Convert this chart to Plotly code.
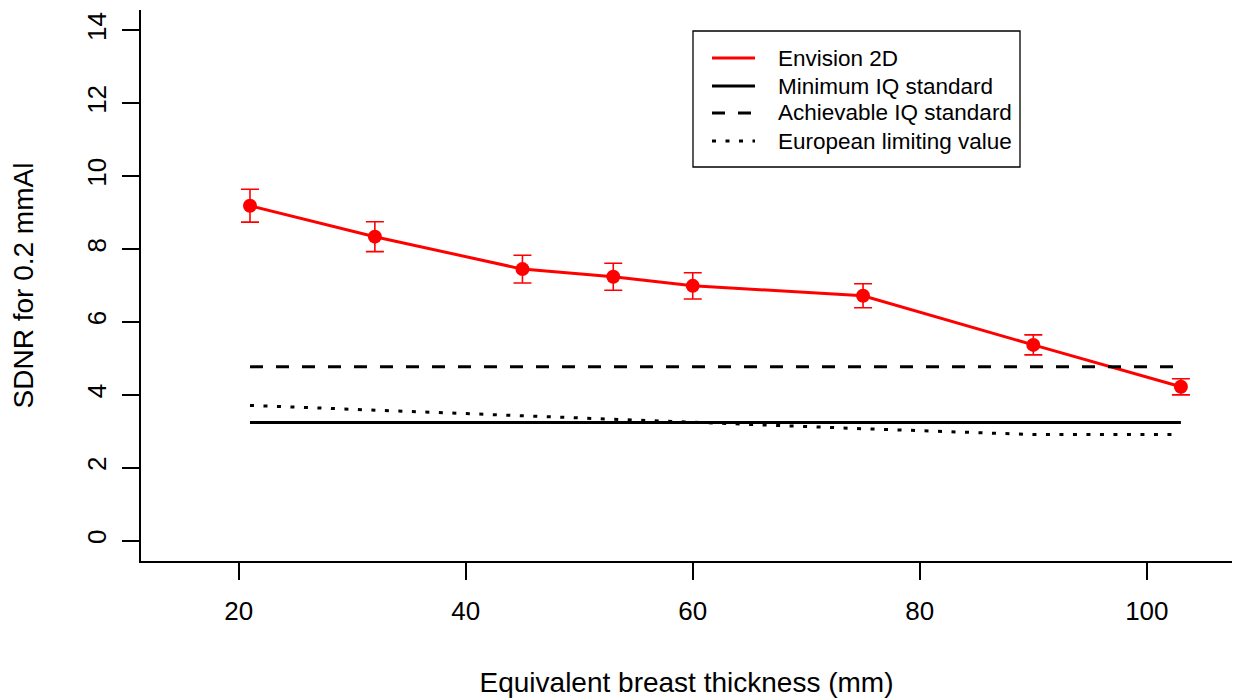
import plotly.graph_objects as go

thickness = [21, 32, 45, 53, 60, 75, 90, 103]
sdnr = [9.19, 8.34, 7.45, 7.24, 6.99, 6.72, 5.37, 4.22]
sdnr_err = [0.45, 0.41, 0.38, 0.37, 0.36, 0.33, 0.275, 0.22]
minimum_iq = [3.24, 3.24, 3.24, 3.24, 3.24, 3.24, 3.24, 3.24]
achievable_iq = [4.77, 4.77, 4.77, 4.77, 4.77, 4.77, 4.77, 4.77]
european_limit = [3.71, 3.58, 3.42, 3.33, 3.25, 3.07, 2.91, 2.91]

x_ticks = [20, 40, 60, 80, 100]
y_ticks = [0, 2, 4, 6, 8, 10, 12, 14]

legend_names = ["Envision 2D", "Minimum IQ standard", "Achievable IQ standard", "European limiting value"]
legend_colors = ["#ff0000", "black", "black", "black"]
DASH_LONG = "13px,13px"
DASH_DOT = "4px,9.5px"
legend_dashes = ["solid", "solid", DASH_LONG, DASH_DOT]

FONT = "Liberation Sans, Arial, sans-serif"
RED = "#ff0000"

W, H = 1240, 698
L, R, T, B = 141, 8, 10, 137
PW, PH = W - L - R, H - T - B


def px(xp):
    return (xp - L) / PW


def py(yp):
    return (H - B - yp) / PH


fig = go.Figure()

fig.add_trace(go.Scatter(
    x=thickness, y=sdnr, mode="lines+markers", name=legend_names[0],
    line=dict(color=RED, width=3),
    marker=dict(color=RED, size=14),
    error_y=dict(type="data", array=sdnr_err, visible=True, color=RED, thickness=1.6, width=9),
    showlegend=False,
))
fig.add_trace(go.Scatter(
    x=thickness, y=minimum_iq, mode="lines", name=legend_names[1],
    line=dict(color="black", width=3), showlegend=False,
))
fig.add_trace(go.Scatter(
    x=thickness, y=achievable_iq, mode="lines", name=legend_names[2],
    line=dict(color="black", width=3, dash=DASH_LONG), showlegend=False,
))
fig.add_trace(go.Scatter(
    x=thickness, y=european_limit, mode="lines", name=legend_names[3],
    line=dict(color="black", width=3, dash=DASH_DOT), showlegend=False,
))

# legend box drawn in R style
shapes = [dict(type="rect", xref="paper", yref="paper",
               x0=px(693), x1=px(1020), y0=py(167), y1=py(31),
               line=dict(color="black", width=1.3), fillcolor="white", layer="above")]
annotations = []
row_y = [58, 86, 113, 141]
for name, col, dash, ry in zip(legend_names, legend_colors, legend_dashes, row_y):
    shapes.append(dict(type="line", xref="paper", yref="paper",
                       x0=px(712), x1=px(755), y0=py(ry), y1=py(ry),
                       line=dict(color=col, width=3, dash=dash), layer="above"))
    annotations.append(dict(text=name, xref="paper", yref="paper", x=px(776), y=py(ry),
                            xanchor="left", yanchor="middle", showarrow=False,
                            font=dict(family=FONT, size=22.5, color="black")))

fig.update_layout(
    width=W, height=H,
    margin=dict(l=L, r=R, t=T, b=B),
    plot_bgcolor="white", paper_bgcolor="white",
    font=dict(family=FONT, size=26, color="black"),
    showlegend=False,
    shapes=shapes,
    annotations=annotations,
    xaxis=dict(
        range=[11.4, 107.5], tickvals=x_ticks, ticks="outside", ticklen=17,
        tickwidth=1.5, tickcolor="black", showline=True, linecolor="black",
        linewidth=1.5, showgrid=False, zeroline=False, automargin=False,
        tickfont=dict(family=FONT, size=26),
        ticklabelstandoff=9,
        title=dict(text="Equivalent breast thickness (mm)", standoff=50,
                   font=dict(family=FONT, size=28)),
    ),
    yaxis=dict(
        range=[-0.56, 14.56], tickvals=y_ticks, ticks="outside", ticklen=17,
        tickwidth=1.5, tickcolor="black", showline=True, linecolor="black",
        linewidth=1.5, showgrid=False, zeroline=False, tickangle=-90, automargin=False,
        tickfont=dict(family=FONT, size=26),
        ticklabelstandoff=6,
        title=dict(text="SDNR for 0.2 mmAl", standoff=40,
                   font=dict(family=FONT, size=28)),
    ),
)

fig.write_html("out.html")
